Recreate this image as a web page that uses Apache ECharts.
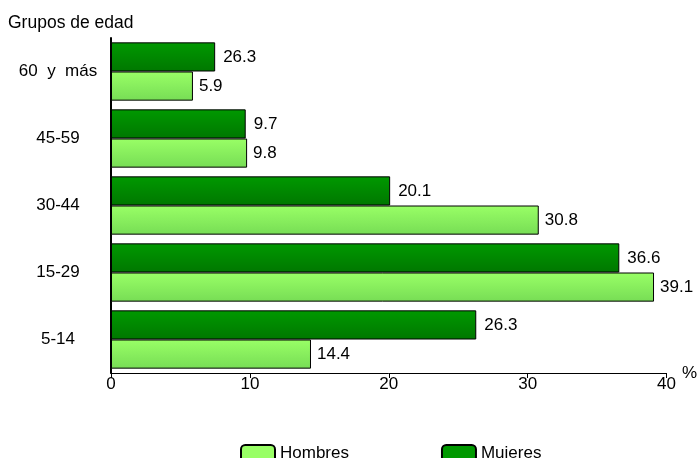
<!DOCTYPE html>
<html>
<head>
<meta charset="utf-8">
<script src="https://cdn.jsdelivr.net/npm/echarts@6/dist/echarts.min.js"></script>
<style>
  body, html { margin: 0; padding: 0; width: 100%; height: 100%; overflow: hidden; background: #fff; }
  #chart { width: 700px; height: 458px; }
</style>
</head>
<body>
<div id="chart"></div>
<script>
var categories = ['5-14', '15-29', '30-44', '45-59', '60  y  más'];
var hombres = [14.4, 39.1, 30.8, 9.8, 5.9];
// the last bar is drawn shorter than its printed label in the original
var mujeres = [26.3, 36.6, 20.1, 9.7, 7.5];
var mujeresLabels = ['26.3', '36.6', '20.1', '9.7', '26.3'];
var xTicks = [0, 10, 20, 30, 40];

var font = 'Arial, "Liberation Sans", sans-serif';
var fs = 17;

function grad(top, bottom) {
  return new echarts.graphic.LinearGradient(0, 0, 0, 1, [
    { offset: 0, color: top },
    { offset: 1, color: bottom }
  ]);
}

var chart = echarts.init(document.getElementById('chart'));
chart.setOption({
  animation: false,
  title: {
    text: 'Grupos de edad',
    left: 3, top: 9,
    textStyle: { fontFamily: font, fontSize: 17.5, fontWeight: 'normal', color: '#000' }
  },
  grid: { left: 111, right: 32, top: 38, bottom: 85 },
  legend: {
    left: 235, top: 439,
    itemWidth: 34, itemHeight: 17, itemGap: 92,
    textStyle: { fontFamily: font, fontSize: fs, color: '#000' },
    data: [
      { name: 'Hombres', itemStyle: { color: '#99ff66', borderColor: '#000', borderWidth: 2 } },
      { name: 'Mujeres', itemStyle: { color: '#009900', borderColor: '#000', borderWidth: 2 } }
    ]
  },
  xAxis: {
    type: 'value',
    min: xTicks[0], max: xTicks[xTicks.length - 1], interval: 10,
    name: '%', nameLocation: 'end', nameGap: 14,
    nameTextStyle: { fontFamily: font, fontSize: fs, color: '#000', align: 'left', verticalAlign: 'middle', padding: [0, 0, 16, 0] },
    axisLine: { show: true, lineStyle: { color: '#000', width: 1 } },
    axisTick: { show: true, length: 5, lineStyle: { color: '#000' } },
    axisLabel: { fontFamily: font, fontSize: fs, color: '#000', margin: 3 },
    splitLine: { show: false }
  },
  yAxis: {
    type: 'category',
    data: categories,
    axisLine: { lineStyle: { color: '#000', width: 2 } },
    axisTick: { length: 5, lineStyle: { color: '#000' } },
    axisLabel: { fontFamily: font, fontSize: fs, color: '#000', align: 'center', margin: 53 }
  },
  series: [
    {
      name: 'Mujeres', type: 'bar', data: mujeres,
      barGap: '0%', barCategoryGap: '13%',
      itemStyle: { color: grad('#009900', '#007700'), borderColor: '#000', borderWidth: 1 },
      label: {
        show: true, position: 'right', distance: 8, fontFamily: font, fontSize: fs, color: '#000',
        formatter: function (p) { return mujeresLabels[p.dataIndex]; }
      }
    },
    {
      name: 'Hombres', type: 'bar', data: hombres,
      barGap: '0%', barCategoryGap: '13%',
      itemStyle: { color: grad('#99ff66', '#77dd55'), borderColor: '#000', borderWidth: 1 },
      label: { show: true, position: 'right', distance: 6, fontFamily: font, fontSize: fs, color: '#000' }
    }
  ]
});
</script>
</body>
</html>
